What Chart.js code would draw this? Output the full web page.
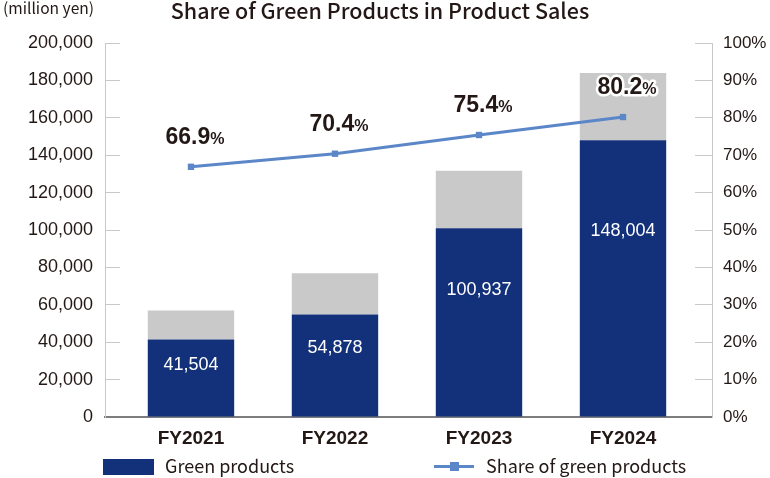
<!DOCTYPE html>
<html>
<head>
<meta charset="utf-8">
<script src="https://cdn.jsdelivr.net/npm/chart.js@4.4.1/dist/chart.umd.min.js"></script>
<style>
html,body{margin:0;padding:0;background:#fff;}
#wrap{position:relative;width:770px;height:478px;overflow:hidden;}
#c{position:absolute;left:0;top:0;}
.t{position:absolute;font-family:"Noto Sans CJK JP","Noto Sans",sans-serif;color:#231815;white-space:nowrap;line-height:1;}
.sw{position:absolute;}
</style>
</head>
<body>
<div id="wrap">
  <canvas id="c" width="770" height="478"></canvas>
  <div class="t" style="left:3px;top:0px;font-size:15.6px;">(million yen)</div>
  <div class="t" style="left:0;width:760px;text-align:center;top:-1px;font-size:21.5px;font-weight:500;">Share of Green Products in Product Sales</div>
  <div class="sw" style="left:103px;top:459px;width:51px;height:16px;background:#13317a;"></div>
  <div class="t" style="left:165px;top:456px;font-size:18px;">Green products</div>
  <div class="sw" style="left:434px;top:465px;width:40px;height:3px;background:#5b87c9;"></div>
  <div class="sw" style="left:450px;top:462px;width:9px;height:9px;background:#5b87c9;"></div>
  <div class="t" style="left:486px;top:456px;font-size:18px;">Share of green products</div>
</div>
<script>
// ---- data ----
const categories = ['FY2021', 'FY2022', 'FY2023', 'FY2024'];
const greenValues = [41504, 54878, 100937, 148004];      // million yen
const otherValues = [15500, 22000, 30800, 35900];        // remaining product sales (gray), million yen
const shareValues = [66.9, 70.4, 75.4, 80.2];            // %
const leftTicks = { min: 0, max: 200000, step: 20000 };
const rightTicks = { min: 0, max: 100, step: 10 };

const TXT = '#231815';
const AX = '"Liberation Sans", Arial, sans-serif';

const labelPlugin = {
  id: 'valueLabels',
  afterDatasetsDraw(chart) {
    const ctx = chart.ctx;
    ctx.save();
    // bar values
    const barMeta = chart.getDatasetMeta(0);
    ctx.fillStyle = '#ffffff';
    ctx.font = '18px ' + AX;
    ctx.textAlign = 'center';
    ctx.textBaseline = 'middle';
    barMeta.data.forEach((el, i) => {
      const y = el.y + (el.base - el.y) * 0.33;
      ctx.fillText(greenValues[i].toLocaleString('en-US'), el.x, y);
    });
    // share labels
    const lineMeta = chart.getDatasetMeta(2);
    ctx.textBaseline = 'alphabetic';
    ctx.textAlign = 'left';
    ctx.lineJoin = 'round';
    lineMeta.data.forEach((el, i) => {
      const num = shareValues[i].toFixed(1);
      const fNum = 'bold 23px ' + AX;
      const fPct = 'bold 16px ' + AX;
      ctx.font = fNum; const w1 = ctx.measureText(num).width;
      ctx.font = fPct; const w2 = ctx.measureText('%').width;
      const x0 = el.x + 4 - (w1 + w2) / 2;
      const yb = el.y - 23;
      ctx.strokeStyle = '#ffffff';
      ctx.lineWidth = 5;
      ctx.font = fNum; ctx.strokeText(num, x0, yb);
      ctx.font = fPct; ctx.strokeText('%', x0 + w1, yb);
      ctx.fillStyle = TXT;
      ctx.font = fNum; ctx.fillText(num, x0, yb);
      ctx.font = fPct; ctx.fillText('%', x0 + w1, yb);
    });
    ctx.restore();
  }
};

new Chart(document.getElementById('c'), {
  type: 'bar',
  data: {
    datasets: [
      {
        label: 'Green products',
        data: greenValues.map((v, i) => ({ x: i, y: v })),
        backgroundColor: '#13317a',
        yAxisID: 'y', stack: 's', order: 2,
        barPercentage: 0.6, categoryPercentage: 1
      },
      {
        label: 'Other products',
        data: otherValues.map((v, i) => ({ x: i, y: v })),
        backgroundColor: '#c9c9c9',
        yAxisID: 'y', stack: 's', order: 2,
        barPercentage: 0.6, categoryPercentage: 1
      },
      {
        type: 'line',
        label: 'Share of green products',
        data: shareValues.map((v, i) => ({ x: i, y: v })),
        yAxisID: 'y2', order: 0,
        borderColor: '#5b87c9', backgroundColor: '#5b87c9',
        borderWidth: 3, pointStyle: 'rect', pointRadius: 4.5,
        pointBorderWidth: 0, tension: 0, fill: false
      }
    ]
  },
  options: {
    responsive: false,
    animation: false,
    devicePixelRatio: 1,
    layout: { padding: { top: 43, left: 0, right: 0, bottom: 0 } },
    plugins: { legend: { display: false }, title: { display: false }, tooltip: { enabled: false } },
    scales: {
      x: {
        type: 'linear', min: -0.597, max: 3.618, stacked: true, offset: false,
        grid: { display: false, drawTicks: false },
        border: { display: true, color: '#7d7d7d', width: 2 },
        ticks: {
          stepSize: 1, includeBounds: false, autoSkip: false, maxRotation: 0, padding: 10,
          color: TXT, font: { family: AX, size: 19, weight: 'bold' },
          callback: (v) => { const k = Math.round(v); return Math.abs(v - k) < 1e-6 && categories[k] ? categories[k] : ''; }
        },
        afterFit: (s) => { s.height = 61; }
      },
      y: {
        position: 'left', stacked: true,
        min: leftTicks.min, max: leftTicks.max,
        grid: { drawOnChartArea: false, drawTicks: true, tickLength: -15, color: '#c8c8c8', lineWidth: 1 },
        border: { display: true, color: '#c8c8c8', width: 1 },
        ticks: {
          stepSize: leftTicks.step, padding: 27, color: TXT, font: { family: AX, size: 18 },
          callback: (v) => Number(v).toLocaleString('en-US')
        },
        afterFit: (s) => { s.width = 105; }
      },
      y2: {
        position: 'right',
        min: rightTicks.min, max: rightTicks.max,
        grid: { drawOnChartArea: false, drawTicks: true, tickLength: -17, color: '#c8c8c8', lineWidth: 1 },
        border: { display: true, color: '#c8c8c8', width: 1 },
        ticks: {
          stepSize: rightTicks.step, padding: 28, color: TXT, font: { family: AX, size: 17 },
          callback: (v) => v + '%'
        },
        afterFit: (s) => { s.width = 58; }
      }
    }
  },
  plugins: [labelPlugin]
});
</script>
</body>
</html>
